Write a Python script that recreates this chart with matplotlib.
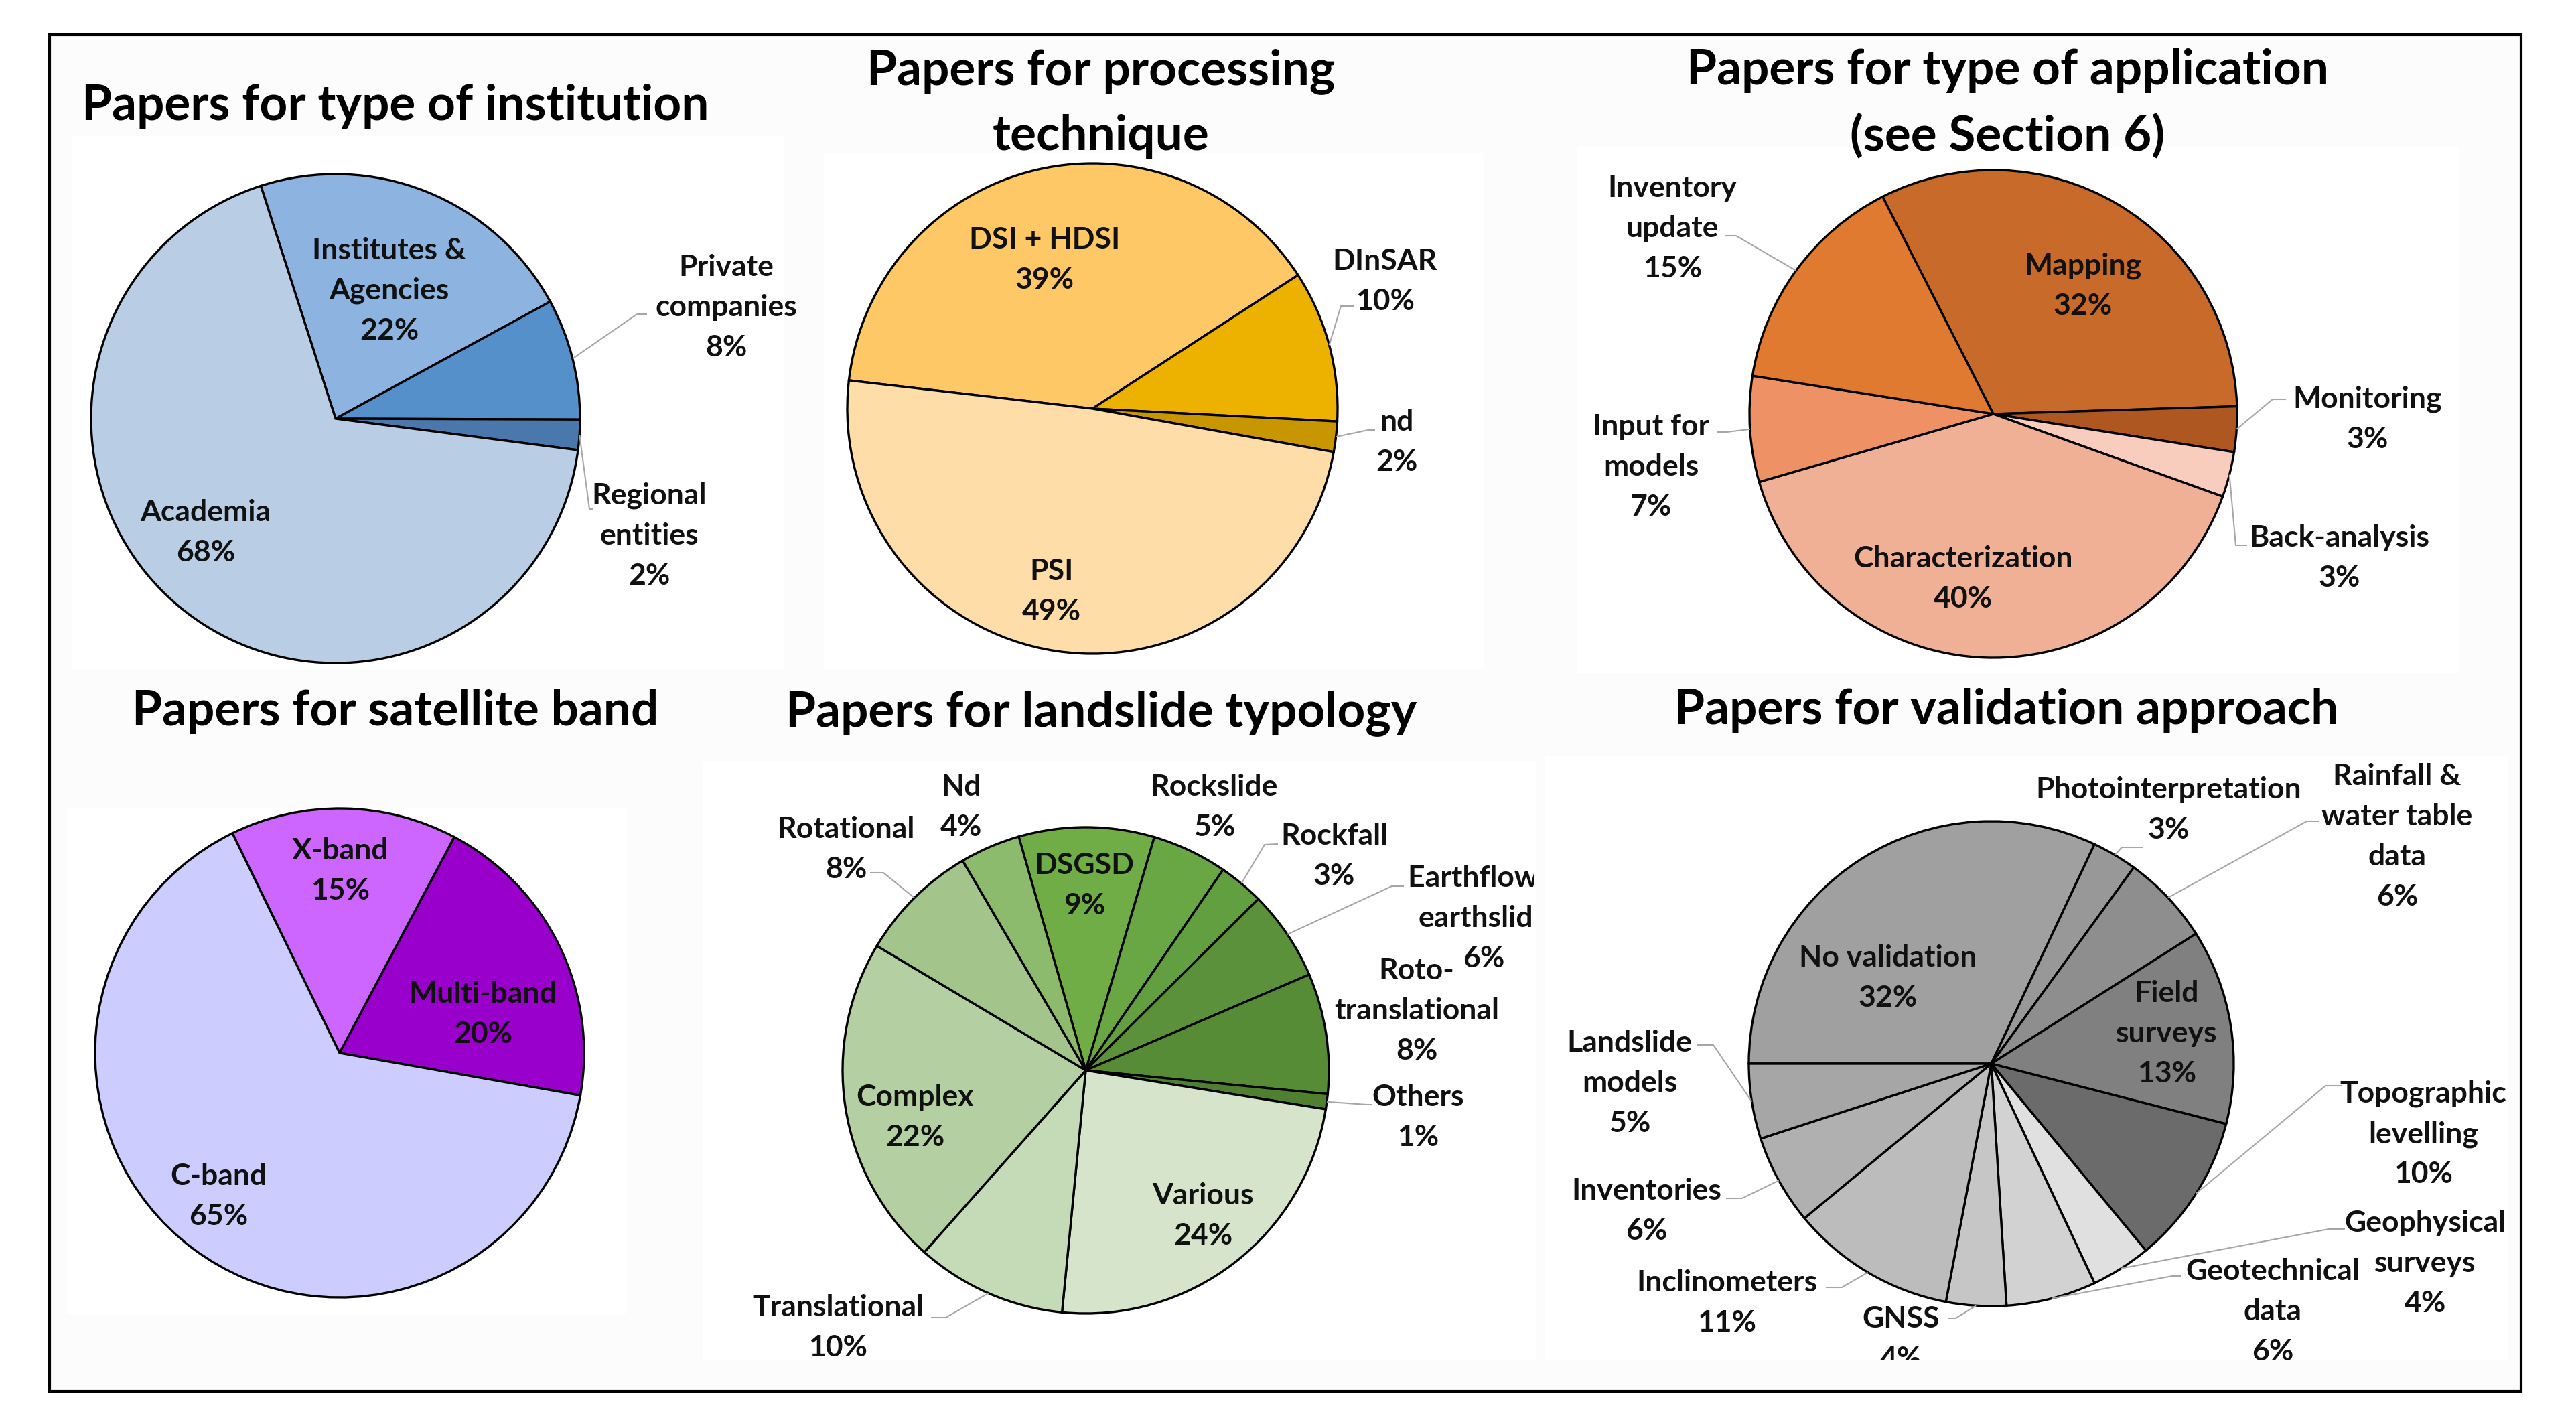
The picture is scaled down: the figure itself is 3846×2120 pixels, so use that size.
import matplotlib
matplotlib.use("Agg")
import matplotlib.pyplot as plt
import numpy as np
from matplotlib.patches import Rectangle
from matplotlib.transforms import Bbox

plt.rcParams['font.family'] = ['Lato', 'DejaVu Sans']
plt.rcParams['font.weight'] = 'bold'

W, H = 3846, 2120

# ---- dados ----
inst_labels = ['Institutes &\nAgencies', 'Private\ncompanies', 'Regional\nentities', 'Academia']
inst_values = [22, 8, 2, 68]
inst_colors = ['#8DB3E0', '#5590CA', '#4A78AC', '#B9CDE5']

proc_labels = ['DSI + HDSI', 'DInSAR', 'nd', 'PSI']
proc_values = [39, 10, 2, 49]
proc_colors = ['#FFC866', '#EDB200', '#C89600', '#FFDDA8']

app_labels = ['Mapping', 'Monitoring', 'Back-analysis', 'Characterization',
              'Input for\nmodels', 'Inventory\nupdate']
app_values = [32, 3, 3, 40, 7, 15]
app_colors = ['#C86A2A', '#AE5720', '#F8CDBD', '#F0B096', '#EE9266', '#E07A30']

band_labels = ['X-band', 'Multi-band', 'C-band']
band_values = [15, 20, 65]
band_colors = ['#CC66FF', '#9900CC', '#CCCCFF']

typo_labels = ['DSGSD', 'Rockslide', 'Rockfall', 'Earthflow /\nearthslide',
               'Roto-\ntranslational', 'Others', 'Various', 'Translational',
               'Complex', 'Rotational', 'Nd']
typo_values = [9, 5, 3, 6, 8, 1, 24, 10, 22, 8, 4]
typo_colors = ['#70AD47', '#69A744', '#629F40', '#5B913A', '#578C36', '#4E8030',
               '#D6E4CC', '#C5DAB6', '#B4CFA1', '#A3C58B', '#8DBB6D']

valid_labels = ['No validation', 'Photointerpretation', 'Rainfall &\nwater table\ndata',
                'Field\nsurveys', 'Topographic\nlevelling', 'Geophysical\nsurveys',
                'Geotechnical\ndata', 'GNSS', 'Inclinometers', 'Inventories',
                'Landslide\nmodels']
valid_values = [32, 3, 6, 13, 10, 4, 6, 4, 11, 6, 5]
valid_colors = ['#A0A0A0', '#989898', '#8E8E8E', '#808080', '#6B6B6B', '#E0E0E0',
                '#D2D2D2', '#C6C6C6', '#BCBCBC', '#B0B0B0', '#A6A6A6']

TITLE_FS = 52.5
TITLE_LS = 1.53
LABEL_FS = 32
LABEL_LS = 1.6
LABEL_DY = 5
LEADER = '#A6A6A6'

fig = plt.figure(figsize=(W / 100, H / 100), dpi=100)
fig.patch.set_facecolor('white')

bg = fig.add_axes([0, 0, 1, 1], zorder=0)
bg.set_xlim(0, W)
bg.set_ylim(H, 0)
bg.axis('off')

top = fig.add_axes([0, 0, 1, 1], zorder=10)
top.set_xlim(0, W)
top.set_ylim(H, 0)
top.axis('off')

# moldura externa e areas dos graficos
bg.add_patch(Rectangle((74, 52), 3690, 2025, facecolor='#FCFCFC', edgecolor='black', lw=3))
for x0, y0, x1, y1 in [(108, 203, 1170, 1000), (1230, 228, 2215, 1000),
                       (2355, 220, 3672, 1005), (98, 1207, 935, 1962),
                       (1050, 1136, 2294, 2030), (2306, 1128, 3745, 2030)]:
    bg.add_patch(Rectangle((x0, y0), x1 - x0, y1 - y0, facecolor='white', edgecolor='none'))


def draw_pie(values, labels, colors, cx, cy, r, start, label_pos, leaders, clips=None):
    pad = 1.02
    ax = fig.add_axes([(cx - r * pad) / W, 1 - (cy + r * pad) / H,
                       2 * r * pad / W, 2 * r * pad / H], zorder=5)
    wedges, _ = ax.pie(values, colors=colors, startangle=start, counterclock=False,
                       radius=1, wedgeprops=dict(edgecolor='black', linewidth=2.4))
    ax.set_xlim(-pad, pad)
    ax.set_ylim(-pad, pad)
    ax.patch.set_visible(False)

    for i, (w, name, v) in enumerate(zip(wedges, labels, values)):
        tx, ty = label_pos[i]
        t = top.text(tx, ty + LABEL_DY, f'{name}\n{v}%', ha='center', va='center',
                     fontsize=LABEL_FS, color='#111111', linespacing=LABEL_LS)
        if clips and i in clips:
            t.set_clip_on(True)
            t.set_clip_box(clips[i])
        if i in leaders:
            mid = np.deg2rad((w.theta1 + w.theta2) / 2)
            ex, ey = cx + r * np.cos(mid), cy - r * np.sin(mid)
            pts = leaders[i] + [(ex, ey)]
            xs, ys = zip(*pts)
            top.plot(xs, ys, color=LEADER, lw=1.5, solid_capstyle='butt')
    return ax


def title(text, x, y):
    top.text(x, y, text, ha='center', va='top', fontsize=TITLE_FS, color='black',
             linespacing=TITLE_LS)


# 1 - institution
title('Papers for type of institution', 590, 125)
draw_pie(inst_values, inst_labels, inst_colors, 501, 625, 365, 107.8,
         [(581, 429), (1084, 454), (969, 795), (307, 790)],
         {1: [(966, 469), (951, 469)], 2: [(886, 760), (880, 760)]})

# 2 - processing technique
title('Papers for processing\ntechnique', 1644, 72)
draw_pie(proc_values, proc_labels, proc_colors, 1631, 610, 366, 173.4,
         [(1560, 383), (2068, 415), (2085, 655), (1570, 878)],
         {1: [(2022, 457), (2002, 457)], 2: [(2053, 642), (2043, 642)]})

# 3 - application
title('Papers for type of application\n(see Section 6)', 2997, 72)
draw_pie(app_values, app_labels, app_colors, 2976, 618, 364, 117,
         [(3110, 422), (3535, 621), (3493, 828), (2931, 859), (2465, 692), (2497, 336)],
         {1: [(3413, 596), (3393, 596)], 2: [(3355, 814), (3338, 814)],
          4: [(2563, 645), (2578, 645)], 5: [(2575, 352), (2592, 352)]})

# 4 - satellite band
title('Papers for satellite band', 590, 1029)
draw_pie(band_values, band_labels, band_colors, 507, 1572, 365, 116,
         [(508, 1295), (721, 1509), (326, 1781)], {})

# 5 - landslide typology
title('Papers for landslide typology', 1644, 1030)
clip5 = Bbox.from_extents(0, H - 2030, 2291, H - 1136)
draw_pie(typo_values, typo_labels, typo_colors, 1621, 1598, 363, 106,
         [(1619, 1317), (1813, 1200), (1992, 1273), (2215, 1366), (2115, 1504),
          (2117, 1663), (1796, 1810), (1251, 1977), (1366, 1663), (1263, 1263),
          (1435, 1200)],
         {2: [(1908, 1260), (1888, 1261)], 3: [(2096, 1323), (2078, 1323)],
          5: [(2049, 1649), (2040, 1649)], 7: [(1390, 1967), (1412, 1967)],
          9: [(1299, 1303), (1319, 1303)]},
         clips={3: clip5})

# 6 - validation approach
title('Papers for validation approach', 2996, 1027)
clip6 = Bbox.from_extents(0, H - 2030, W, H)
draw_pie(valid_values, valid_labels, valid_colors, 2973, 1588, 362, 180,
         [(2819, 1455), (3238, 1204), (3579, 1244), (3235, 1538), (3618, 1688),
          (3621, 1881), (3393, 1953), (2838, 1994), (2578, 1940), (2458, 1803),
          (2433, 1612)],
         {1: [(3200, 1265), (3168, 1265)], 2: [(3463, 1226), (3444, 1226)],
          4: [(3496, 1621), (3472, 1621)], 5: [(3501, 1835), (3477, 1835)],
          6: [(3257, 1905), (3243, 1905)], 7: [(2908, 1968), (2920, 1968)],
          8: [(2726, 1922), (2750, 1922)], 9: [(2577, 1789), (2601, 1789)],
          10: [(2534, 1560), (2558, 1560)]},
         clips={7: clip6})

fig.savefig('out.png', dpi=100)
